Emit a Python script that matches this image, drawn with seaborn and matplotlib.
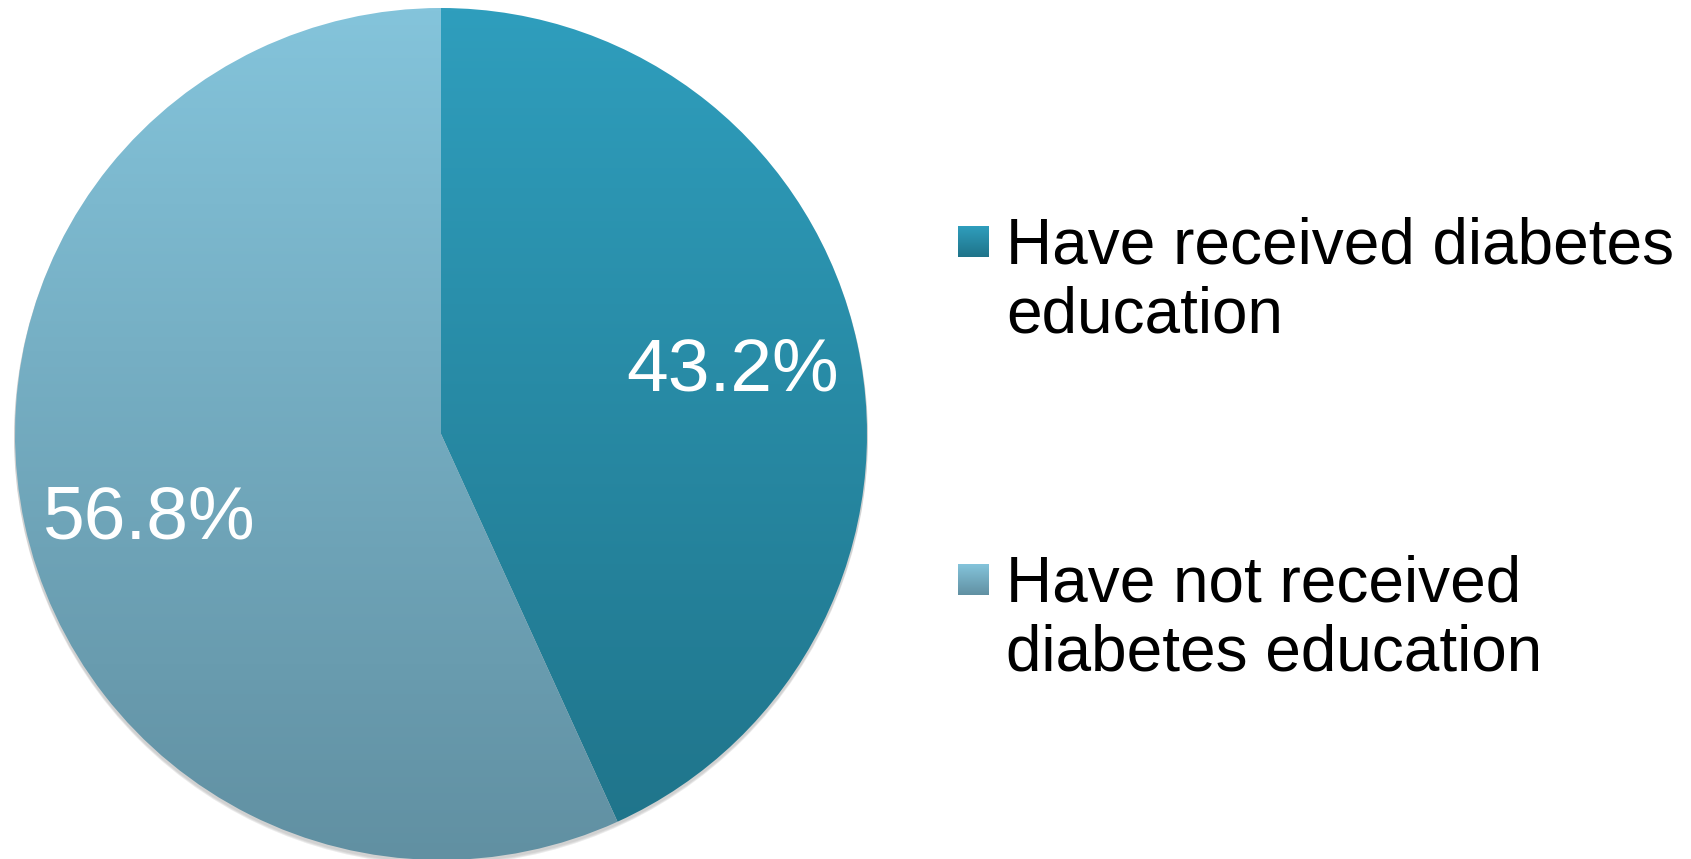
import matplotlib
matplotlib.use("Agg")
import matplotlib.pyplot as plt
import numpy as np
import seaborn as sns
from matplotlib.patches import Rectangle, Circle
from matplotlib.colors import LinearSegmentedColormap

# === DATA ===
labels = ["Have received diabetes\neducation", "Have not received\ndiabetes education"]
shares = [43.2, 56.8]
top_colors = ["#2F9EBD", "#84C4DB"]
bottom_colors = ["#1F7389", "#6190A2"]

sns.set_theme(style="white")
plt.rcParams["font.family"] = ["Liberation Sans", "DejaVu Sans"]

W, H = 1691, 859
fig = plt.figure(figsize=(W / 100, H / 100), dpi=100)
ax = fig.add_axes([0, 0, 1, 1])

cx, cy, r = 441, 859 - 434, 426

# soft shadow under the pie
for k, a in enumerate([0.05, 0.06, 0.08]):
    ax.add_patch(Circle((cx, cy - 2 - k), r + 1, color="black", alpha=a, lw=0, zorder=0))

wedges, texts, autotexts = ax.pie(
    shares, center=(cx, cy), radius=r, startangle=90, counterclock=False,
    autopct="%1.1f%%", pctdistance=0.70, frame=True,
    wedgeprops=dict(linewidth=0),
    textprops=dict(color="white", fontsize=54),
)

# vertical gradient fill clipped to each wedge
grad = np.linspace(0, 1, 256).reshape(-1, 1)
for w, c0, c1 in zip(wedges, top_colors, bottom_colors):
    w.set_facecolor("none")
    cmap = LinearSegmentedColormap.from_list("g", [c1, c0])
    im = ax.imshow(grad, cmap=cmap, origin="lower", aspect="auto",
                   extent=(cx - r, cx + r, cy - r, cy + r), zorder=1)
    im.set_clip_path(w)
for t in autotexts:
    t.set_zorder(5)
# the left label sits a bit lower in the original
x2, y2 = autotexts[1].get_position()
autotexts[1].set_position((x2, y2 - 22))

# legend
sq = 31
entry_y = [H - 242, H - 580]
for lab, y, c0, c1 in zip(labels, entry_y, top_colors, bottom_colors):
    rect = Rectangle((958, y - 15), sq, sq, facecolor="none", lw=0)
    ax.add_patch(rect)
    cmap = LinearSegmentedColormap.from_list("g", [c1, c0])
    im = ax.imshow(grad, cmap=cmap, origin="lower", aspect="auto",
                   extent=(958, 958 + sq, y - 15, y - 15 + sq), zorder=2)
    im.set_clip_path(rect)
    ax.text(1006, y + 26, lab, fontsize=46, color="black", va="top", ha="left",
            linespacing=1.2)

ax.set_xlim(0, W)
ax.set_ylim(0, H)
ax.set_aspect("equal")
ax.axis("off")
fig.savefig("out.png", dpi=100)
